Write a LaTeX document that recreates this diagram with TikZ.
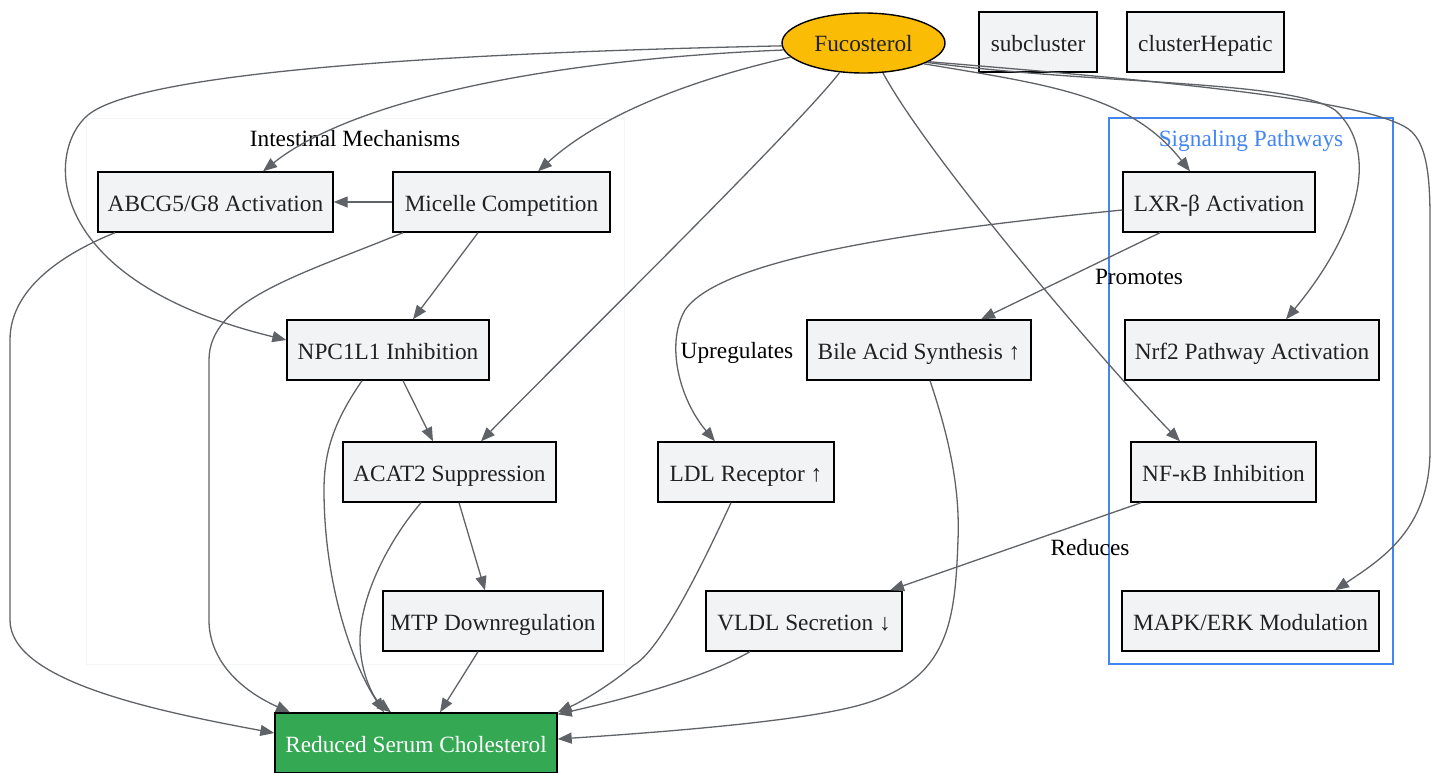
\documentclass[tikz,border=0pt]{standalone}
\usepackage{fontspec}
\setmainfont{Liberation Serif}
\usetikzlibrary{arrows.meta,shapes.geometric}
\definecolor{boxfill}{HTML}{F1F3F4}
\definecolor{txt}{HTML}{202124}
\definecolor{edgecol}{HTML}{5F6368}
\definecolor{fucfill}{HTML}{FBBC05}
\definecolor{greenfill}{HTML}{34A853}
\definecolor{sigblue}{HTML}{4285F4}
\definecolor{faint}{HTML}{F4F6F6}
\begin{document}
\begin{tikzpicture}[x=1pt,y=-1pt,
  every node/.style={font=\fontsize{23.3}{28}\selectfont},
  box/.style={draw=black, line width=1.4pt, fill=boxfill, text=txt, minimum height=60pt, inner sep=0pt, text height=22pt, text depth=4pt},
  edge/.style={draw=edgecol, line width=1.3pt, -{Triangle[length=14pt,width=11pt]}},
  lbl/.style={text=black, inner sep=0pt, text height=18pt, text depth=4pt}]
\useasboundingbox (0,0) rectangle (1434,772);
% clusters
\draw[faint, line width=1pt] (86,118) rectangle (624,664);
\draw[sigblue, line width=1.3pt] (1109,118) rectangle (1393,664);
\node[lbl] (tInt) at (355,139) {Intestinal Mechanisms};
\node[lbl, text=sigblue] (tSig) at (1251,139) {Signaling Pathways};
% nodes
\node[ellipse, draw=black, line width=1.4pt, fill=fucfill, text=txt, minimum width=163pt, minimum height=60pt, inner sep=0pt, text height=20pt, text depth=4pt] (fuc) at (863.5,43) {Fucosterol};
\node[box, minimum width=118pt] (sub) at (1038,42) {subcluster};
\node[box, minimum width=157pt] (hep) at (1205.5,42) {clusterHepatic};
\node[box, minimum width=235pt] (abcg) at (215.5,202) {ABCG5/G8 Activation};
\node[box, minimum width=217pt] (mc) at (501.5,202) {Micelle Competition};
\node[box, minimum width=202pt] (npc) at (388,350) {NPC1L1 Inhibition};
\node[box, minimum width=213pt] (acat) at (449.5,472) {ACAT2 Suppression};
\node[box, minimum width=220pt] (mtp) at (493,621) {MTP Downregulation};
\node[box, minimum width=282pt, fill=greenfill, text=white] (red) at (416,743) {Reduced Serum Cholesterol};
\node[box, minimum width=176pt] (ldl) at (746,472) {LDL Receptor ↑};
\node[box, minimum width=224pt] (bile) at (919,350) {Bile Acid Synthesis ↑};
\node[box, minimum width=196pt] (vldl) at (804,621) {VLDL Secretion ↓};
\node[box, minimum width=192pt] (lxr) at (1219,202) {LXR-β Activation};
\node[box, minimum width=254pt] (nrf) at (1252,350) {Nrf2 Pathway Activation};
\node[box, minimum width=185pt] (nfkb) at (1223.5,472) {NF-κB Inhibition};
\node[box, minimum width=257pt] (mapk) at (1250.5,621) {MAPK/ERK Modulation};
% edge labels
\node[lbl] (lPro) at (1139,277) {Promotes};
\node[lbl] (lUp) at (737,351) {Upregulates};
\node[lbl] (lRed) at (1090,548) {Reduces};
% edges from Fucosterol
\draw[edge] (fuc.185) .. controls (540,60) and (350,102) .. ([xshift=47.5pt]abcg.north);
\draw[edge] (fuc.191) .. controls (690,80) and (600,115) .. ([xshift=36.5pt]mc.north);
\draw[edge] (fuc.182) .. controls (350,55) and (130,80) .. (88,115) .. controls (46,150) and (40,280) .. ([yshift=10pt]npc.west);
\draw[edge] (fuc.231) .. controls (800,125) and (540,380) .. ([xshift=31.5pt]acat.north);
\draw[edge] (fuc.303) .. controls (930,160) and (1110,370) .. ([xshift=-43.5pt]nfkb.north);
\draw[edge] (fuc.341) .. controls (1050,85) and (1130,95) .. ([xshift=-29pt]lxr.north);
\draw[edge] (fuc.343) .. controls (1100,85) and (1290,80) .. (1335,110) .. controls (1380,150) and (1360,230) .. ([xshift=34pt]nrf.north);
\draw[edge] (fuc.344) .. controls (1150,80) and (1380,100) .. (1412,132) .. controls (1432,152) and (1430,200) .. (1430,250) -- (1430,450) .. controls (1430,530) and (1380,560) .. ([xshift=84.5pt]mapk.north);
% intestinal
\draw[edge] (mc.west) -- (abcg.east);
\draw[edge] ([xshift=-23.5pt]mc.south) -- ([xshift=25pt]npc.north);
\draw[edge] ([xshift=-98.5pt]mc.south) .. controls (300,275) and (209,300) .. (209,360) -- (209,620) .. controls (209,660) and (240,690) .. ([xshift=-126pt]red.north);
\draw[edge] ([xshift=-100.5pt]abcg.south) .. controls (60,255) and (10,290) .. (10,340) -- (10,620) .. controls (10,680) and (150,710) .. ([yshift=10pt]red.west);
\draw[edge] ([xshift=15pt]npc.south) -- ([xshift=-16.5pt]acat.north);
\draw[edge] ([xshift=-26pt]npc.south) .. controls (335,420) and (324,450) .. (324,490) .. controls (324,580) and (350,660) .. ([xshift=-32pt]red.north);
\draw[edge] ([xshift=9.5pt]acat.south) -- ([xshift=-8pt]mtp.north);
\draw[edge] ([xshift=-28.5pt]acat.south) .. controls (385,545) and (360,600) .. (360,640) .. controls (360,675) and (375,700) .. ([xshift=-25pt]red.north);
\draw[edge] ([xshift=-15pt]mtp.south) -- ([xshift=24pt]red.north);
% hepatic / signaling
\draw[edge] ([yshift=-8pt]lxr.west) .. controls (900,232) and (720,260) .. (685,310) .. controls (665,345) and (680,400) .. ([xshift=-31pt]ldl.north);
\draw[edge] ([xshift=-59pt]lxr.south) -- ([xshift=62pt]bile.north);
\draw[edge] ([xshift=-15pt]ldl.south) .. controls (700,570) and (660,650) .. (634,665) .. controls (610,685) and (585,700) .. (red.north east);
\draw[edge] ([xshift=11pt]bile.south) .. controls (950,440) and (960,490) .. (958,540) .. controls (955,620) and (950,680) .. (860,705) .. controls (800,722) and (650,733) .. ([yshift=4pt]red.east);
\draw[edge] ([xshift=-82.5pt]nfkb.south) -- ([xshift=86pt]vldl.north);
\draw[edge] ([xshift=-54pt]vldl.south) .. controls (700,680) and (620,700) .. ([yshift=-2pt]red.north east);
\end{tikzpicture}
\end{document}
